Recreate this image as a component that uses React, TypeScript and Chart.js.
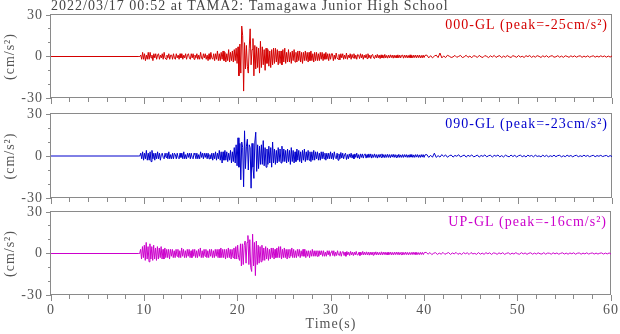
import React, { useEffect, useRef } from 'react';
import { Chart, registerables } from 'chart.js';

Chart.register(...registerables);

// ---------- text ----------
const TITLE = '2022/03/17 00:52 at TAMA2: Tamagawa Junior High School';
const X_TITLE = 'Time(s)';
const Y_TITLE = '(cm/s\u00B2)';
const COMPONENTS = ['000-GL', '090-GL', 'UP-GL'];
const PEAKS = [-25, -23, -16];
const COLORS = ['#d40000', '#0000cc', '#cc00cc'];

// ---------- axes ----------
const X_MIN = 0;
const X_MAX = 60;
const X_MAJOR_STEP = 10;
const X_MINOR_STEP = 2;
const Y_MIN = -30;
const Y_MAX = 30;
const Y_MAJOR_STEP = 30;
const Y_MINOR_STEP = 10;

// ---------- sampling of the digitised records ----------
const QUIET_TIMES = [0, 9.4];
const ACTIVE_START = 9.5; // s  (9.5 .. 30.0)
const ACTIVE_DT = 0.1;
const CODA_START = 30.1; // s  (30.1 .. 40.0)
const CODA_DT = 0.1;
const TAIL_START = 40.2; // s  (40.2 .. 60.0)
const TAIL_DT = 0.2;

// ---------- accelerations (cm/s^2) read from the records ----------
const RED_ACTIVE = [
  0, 1, -2, 3, -2, 2, -3, 1, -2, 3,
  -2, 3, -1, 1, -3, 2, -1, 2, -2, 1,
  2, -2, 1, -1, 2, -2, 3, -1, -2, 1,
  -1, 2, -2, 1, 1, -2, 2, -1, -2, 2,
  -1, 1, -2, 2, -1, 2, -2, 1, -1, 2,
  -2, 1, 2, -1, -2, 2, -1, 2, -2, 1,
  -1, 2, -2, 1, -2, 3, -1, -2, 2, -1,
  2, -2, 1, -3, 2, -2, 3, -1, -2, 2,
  -3, 2, -2, 4, -3, 2, -3, 3, -2, 4,
  -3, 3, -4, 2, -3, 5, -4, 3, -3, 4,
  -4, 5, -3, 6, -5, 7, -14, 9, -12, 22,
  15, -25, 10, -9, 8, -7, -12, 6, 20, -6,
  5, 13, -14, 8, -9, 7, -8, 6, -12, 11,
  -8, 7, -6, 5, -10, 6, -5, 5, -7, 4,
  -8, 5, -6, 6, -5, 6, -4, 5, -6, 4,
  -5, 4, -6, 5, -4, 6, -5, 3, -4, 5,
  -4, 3, -5, 4, -3, 5, -4, 3, -4, 4,
  -3, 4, -4, 3, -5, 3, -3, 4, -3, 3,
  -4, 3, -3, 4, -3, 2, -4, 3, -3, 3,
  -3, 2, -3, 3, -2, 3, -3, 2, -2, 3,
  -2, 2, -3, 2, -2, 2,
];
const RED_CODA = [
  2, -3, 1, -2, 2.5, -1, -2, 1.5, -2.5, 2,
  -1, 2, -2, 1, -1.5, 2.5, -2, 1, -1, 2,
  -2, 1.5, -1, 2, -1.5, 1, -2, 1.5, 1, -1.5,
  2, -1, 1.5, -2, 1, -1, 1.5, -1.5, 2, -1,
  1, -1.5, 1, 1.5, -1, -1.5, 1, -1, 1.5, -1,
  1, -1.5, 1.2, -1, 1, -1.2, 1.5, -1, 0.8, -1.2,
  1, -1, 1.2, -0.8, 1, -1.2, 1, -1, 0.8, -1,
  1.2, -1, 1, -1, 0.8, 1, -1.2, 1, -0.8, 1,
  -1, 0.8, -1, 1.2, -1, 0.8, -1, 1, -0.8, 1,
  -1, 1, -0.8, 1, -1, 0.8, -1, 1, -0.8, 0.8,
];
const RED_TAIL = [
  1, -1, 0.6, -1, 0.3, 1, -0.8, 2.5, -1, 0.4,
  -0.8, 0.9, 0.2, -0.7, -0.3, 0.8, -0.6, 0.1, 0.8, -0.8,
  -0.2, 0.9, -0.6, 0.3, -0.9, 0.6, 0.2, -0.7, 0.8, -0.3,
  -0.7, 0.7, 0.1, -0.8, 0.5, -0.4, 0.8, -0.7, 0.2, 0.6,
  -0.8, 0.3, -0.5, 0.7, -0.2, -0.7, 0.6, 0.1, -0.6, 0.7,
  -0.4, 0.2, -0.7, 0.6, -0.1, 0.7, -0.6, 0.3, -0.5, 0.6,
  0.1, -0.7, 0.5, -0.3, 0.6, -0.6, 0.2, 0.6, -0.5, -0.2,
  0.6, -0.5, 0.3, -0.6, 0.5, 0.1, -0.6, 0.5, -0.3, 0.5,
  -0.5, 0.2, 0.5, -0.6, 0.3, -0.4, 0.5, -0.5, 0.1, 0.5,
  -0.5, 0.3, -0.4, 0.5, -0.2, 0.4, -0.5, 0.3, -0.4, 0.4,
];

const BLUE_ACTIVE = [
  0, 2, -2, 3, -3, 2, -2, 4, -3, 2,
  -3, 3, -4, 4, -2, 2, -3, 2, -2, 3,
  -2, 2, -3, 1, 2, -1, -2, 2, -1, 2,
  -2, 3, -2, 1, -2, 2, -2, 2, 1, -2,
  2, -1, -2, 2, -1, 2, -2, 3, -2, 1,
  -2, 2, -1, 2, -2, 2, -1, -2, 2, 1,
  -2, 2, -2, 1, -2, 3, -1, 2, -2, 2,
  -1, 2, -2, 2, -2, 1, -2, 2, -3, 2,
  -2, 3, -3, 2, -2, 4, -3, 3, -5, 3,
  -3, 4, -3, 3, -4, 2, -3, 4, -5, 3,
  -4, 6, -5, 8, -7, 13, -8, 9, -17, 10,
  6, -22, 18, -9, 7, 12, -10, 8, 6, -23,
  9, -8, -16, 10, 17, -11, 8, -9, 7, -6,
  8, -6, 11, -7, 6, -8, 5, -6, 7, -5,
  6, -8, 10, -5, 5, -6, 4, -5, 6, -4,
  5, -5, 7, -4, 5, -4, 4, -5, 5, -4,
  4, -6, 6, -4, 4, -5, 3, -4, 5, -3,
  4, -4, 3, -5, 4, -3, 5, -4, 3, -3,
  4, -3, 3, -4, 3, -3, 4, -3, 3, -2,
  3, -3, 2, -3, 3, -2, 3, -2, 2, -3,
  2, -2, 2, -2, 3, -2,
];
const BLUE_CODA = [
  2, -2.5, 3, -1, -2, 2, -3, 1.5, -2, 2.5,
  -1.5, 2, -2, 1, 2, -2.5, 1, -2, 1.5, -1,
  2, -1.5, 1, -2, 1.5, -1, 2, -1.5, 1, -2,
  1.5, -1, 1.5, -1.5, 1, 1.5, -1.5, 1, -1, 1.5,
  -1, 1.5, -1.5, 1, -1, 1.5, -1, 1, -1.5, 1,
  -1, 1.2, -1, 1.5, -1, 1, -1.2, 1, -1, 1.2,
  -1, 1, -1.2, 1, -0.8, 1.2, -1, 1, -1, 0.8,
  -1, 1.2, -1, 0.8, -1, 1, -1, 1, -0.8, 1,
  -1, 0.8, -1, 1, -0.8, 1, -1, 0.8, -1, 1,
  -0.8, 1, -1, 0.8, -1, 1, -0.8, 1, -1, 0.8,
];
const BLUE_TAIL = [
  1, -1, 0.5, -0.9, 2, -1, 0.3, -0.8, 1, -0.4,
  0.8, -0.9, 0.2, 0.7, -0.8, 0.4, -0.2, 0.9, -0.7, 0.1,
  0.7, -0.8, 0.5, -0.3, 0.8, -0.6, -0.1, 0.7, -0.8, 0.4,
  -0.3, 0.8, -0.6, 0.2, 0.6, -0.8, 0.5, -0.2, 0.7, -0.6,
  0.3, -0.7, 0.6, -0.1, -0.6, 0.7, -0.4, 0.5, -0.7, 0.2,
  0.6, -0.5, 0.3, -0.7, 0.6, -0.2, 0.4, -0.6, 0.6, -0.3,
  0.1, -0.6, 0.6, -0.4, 0.5, -0.6, 0.2, -0.4, 0.6, -0.5,
  0.3, 0.5, -0.6, 0.2, -0.5, 0.6, -0.3, 0.4, -0.6, 0.2,
  0.5, -0.5, 0.2, -0.4, 0.6, -0.3, 0.4, -0.5, 0.1, 0.5,
  -0.5, 0.3, -0.2, 0.5, -0.4, 0.1, 0.4, -0.5, 0.3, -0.4,
];

const MAG_ACTIVE = [
  0, 3, -4, 5, -3, 6, -5, 8, -4, 5,
  -6, 7, -4, 5, -5, 6, -4, 4, -5, 5,
  -4, 4, -3, 5, -4, 3, -4, 4, -3, 3,
  -3, 3, -4, 3, -2, 3, -3, 2, -3, 3,
  -2, 3, -3, 2, -3, 4, -2, 3, -3, 2,
  -3, 3, -2, 3, -3, 2, -3, 3, -2, 3,
  -3, 2, -3, 3, -2, 4, -3, 2, -3, 3,
  -2, 3, -3, 2, -3, 3, -2, 3, -3, 2,
  -3, 3, -2, 3, -3, 3, -3, 4, -3, 3,
  -3, 3, -4, 3, -3, 4, -3, 3, -4, 3,
  -3, 4, -4, 5, -4, 6, -3, -5, 7, -9,
  7, -8, 6, 9, -7, 8, 13, -8, 10, -10,
  -13, 14, -9, 8, -16, 9, -8, 6, -7, 5,
  -6, 6, -5, 4, -5, 5, -4, 4, -5, 3,
  -4, 4, -3, 4, -4, 3, -3, 4, -3, 5,
  -3, 5, -4, 3, -3, 4, -3, 3, -4, 3,
  -3, 3, -2, 4, -3, 3, -3, 2, -3, 3,
  -2, 3, -3, 2, -2, 3, -2, 3, -3, 2,
  -2, 2, -3, 2, -2, 3, -2, 2, -2, 2,
  -2, 2, -2, 2, -1, 2, -2, 2, -2, 1,
  -2, 2, -1, 2, -2, 1,
];
const MAG_CODA = [
  2, -1.5, 2, -2, 1, -1.5, 2, -1, -1.5, 1.5,
  -2, 1, 1.5, -1.5, 1, -2, 1.5, -1, 1, -1.5,
  1.5, -1, 1, -1.5, 1, -1, 1.5, -1, -1, 1,
  -1.5, 1, -1, 1.5, -1, 1, -1, 1.2, -1, 1,
  -1.2, 1, -1, 1, -1.2, 1, -0.8, 1.2, -1, 1,
  -1, 0.8, -1, 1.2, -1, 1, -0.8, 1, -1, 0.8,
  -1, 1, -0.8, 1, -1, 0.8, -1, 1, -0.8, 1,
  -0.8, 1, -1, 0.8, -0.8, 1, -1, 0.8, -0.8, 1,
  -0.8, 0.8, -1, 0.8, -0.8, 0.8, -0.8, 1, -0.8, 0.8,
  -0.8, 0.8, -0.8, 0.7, -0.8, 0.8, -0.7, 0.8, -0.8, 0.7,
];
const MAG_TAIL = [
  0.8, -0.5, 0.7, -0.8, 0.2, 0.6, -0.7, 0.3, -0.5, 0.8,
  -0.6, 0.1, 0.7, -0.7, 0.4, -0.3, 0.8, -0.6, 0.2, -0.7,
  0.6, -0.2, 0.5, -0.7, 0.7, -0.3, 0.1, -0.6, 0.7, -0.5,
  0.3, -0.6, 0.6, -0.2, 0.5, -0.7, 0.4, 0.2, -0.6, 0.5,
  -0.3, 0.6, -0.6, 0.1, 0.5, -0.6, 0.3, -0.4, 0.6, -0.2,
  -0.5, 0.6, -0.3, 0.4, -0.6, 0.2, 0.5, -0.5, 0.3, -0.4,
  0.5, -0.2, -0.4, 0.6, -0.5, 0.3, 0.2, -0.5, 0.5, -0.3,
  0.4, -0.5, 0.1, 0.5, -0.4, 0.3, -0.5, 0.4, -0.2, 0.5,
  -0.5, 0.2, 0.4, -0.5, 0.3, -0.3, 0.5, -0.4, 0.1, 0.4,
  -0.4, 0.3, -0.4, 0.2, 0.4, -0.4, 0.3, -0.3, 0.4, -0.4,
];

const SERIES_ACTIVE = [RED_ACTIVE, BLUE_ACTIVE, MAG_ACTIVE];
const SERIES_CODA = [RED_CODA, BLUE_CODA, MAG_CODA];
const SERIES_TAIL = [RED_TAIL, BLUE_TAIL, MAG_TAIL];

function toPoints(active: number[], coda: number[], tail: number[]) {
  const pts: { x: number; y: number }[] = QUIET_TIMES.map((t) => ({ x: t, y: 0 }));
  active.forEach((v, i) => pts.push({ x: +(ACTIVE_START + i * ACTIVE_DT).toFixed(3), y: v }));
  coda.forEach((v, i) => pts.push({ x: +(CODA_START + i * CODA_DT).toFixed(3), y: v }));
  tail.forEach((v, i) => pts.push({ x: +(TAIL_START + i * TAIL_DT).toFixed(3), y: v }));
  return pts;
}

// ---------- style / layout ----------
const FONT_FAMILY = '"Liberation Serif", "Times New Roman", Times, serif';
const TEXT_COLOR = '#555555';
const AXIS_COLOR = '#8a8a8a';
const W = 620;
const H = 334;
const PANEL_PAD = [
  { top: 0, bottom: 236 },
  { top: 114, bottom: 136 },
  { top: 212, bottom: 0 },
];

const spacingPlugin = {
  id: 'letterSpacing',
  beforeLayout(chart: any) {
    chart.ctx.letterSpacing = '1px';
  },
  beforeDraw(chart: any) {
    chart.ctx.letterSpacing = '1px';
  },
};

const framePlugin = {
  id: 'frame',
  beforeDatasetsDraw(chart: any) {
    const { ctx, chartArea } = chart;
    const l = Math.round(chartArea.left) - 0.5;
    const t = Math.round(chartArea.top) - 0.5;
    const r = Math.round(chartArea.right) - 0.5;
    const b = Math.round(chartArea.bottom) - 0.5;
    ctx.save();
    ctx.strokeStyle = AXIS_COLOR;
    ctx.lineWidth = 1;
    ctx.strokeRect(l, t, r - l, b - t);
    ctx.restore();
  },
};

const componentLabelPlugin = {
  id: 'componentLabel',
  afterDatasetsDraw(chart: any, _args: any, opts: any) {
    const { ctx, chartArea } = chart;
    ctx.save();
    ctx.letterSpacing = '1px';
    ctx.font = `14px ${FONT_FAMILY}`;
    ctx.fillStyle = opts.color;
    ctx.textAlign = 'right';
    ctx.textBaseline = 'alphabetic';
    ctx.fillText(opts.text, chartArea.right - 4, chartArea.top + 14);
    ctx.restore();
  },
};

function makeConfig(k: number): any {
  const isBottom = k === 2;
  const isTop = k === 0;
  return {
    type: 'line',
    data: {
      datasets: [
        {
          label: COMPONENTS[k],
          data: toPoints(SERIES_ACTIVE[k], SERIES_CODA[k], SERIES_TAIL[k]),
          borderColor: COLORS[k],
          borderWidth: 1,
          borderJoinStyle: 'bevel',
          pointRadius: 0,
          tension: 0,
          fill: false,
          xAxisID: 'x',
          yAxisID: 'y',
        },
      ],
    },
    options: {
      responsive: false,
      animation: false,
      devicePixelRatio: 1,
      parsing: false,
      normalized: true,
      events: [],
      font: { family: FONT_FAMILY, size: 14 },
      layout: { padding: { top: PANEL_PAD[k].top, bottom: PANEL_PAD[k].bottom, left: 0, right: 8 } },
      plugins: {
        legend: { display: false },
        tooltip: { enabled: false },
        title: {
          display: isTop,
          text: TITLE,
          align: 'start',
          fullSize: false,
          color: '#444444',
          font: { family: FONT_FAMILY, size: 14, lineHeight: 1, weight: 'normal' },
          padding: { top: -1, bottom: 2 },
        },
        componentLabel: {
          text: `${COMPONENTS[k]} (peak=${PEAKS[k]}cm/s\u00B2)`,
          color: COLORS[k],
        },
      },
      scales: {
        xMinor: {
          type: 'linear',
          position: 'bottom',
          weight: 0,
          min: X_MIN,
          max: X_MAX,
          ticks: { display: false, stepSize: X_MINOR_STEP },
          grid: { drawOnChartArea: false, drawTicks: true, tickLength: 4, color: AXIS_COLOR },
          border: { display: false },
          afterFit: (s: any) => {
            s.height = 0;
          },
        },
        x: {
          type: 'linear',
          position: 'bottom',
          weight: 1,
          min: X_MIN,
          max: X_MAX,
          ticks: {
            display: isBottom,
            stepSize: X_MAJOR_STEP,
            padding: 1,
            color: TEXT_COLOR,
            font: { family: FONT_FAMILY, size: 14 },
            maxRotation: 0,
            autoSkip: false,
          },
          grid: { drawOnChartArea: false, drawTicks: true, tickLength: 6, color: AXIS_COLOR },
          border: { display: false },
          title: {
            display: isBottom,
            text: X_TITLE,
            color: TEXT_COLOR,
            font: { family: FONT_FAMILY, size: 14 },
            padding: { top: 0, bottom: 1 },
          },
          afterFit: (s: any) => {
            s.height = isBottom ? 39 : 0;
          },
        },
        yMinor: {
          type: 'linear',
          position: 'left',
          weight: 0,
          min: Y_MIN,
          max: Y_MAX,
          ticks: { display: false, stepSize: Y_MINOR_STEP },
          grid: { drawOnChartArea: false, drawTicks: true, tickLength: 3, color: AXIS_COLOR },
          border: { display: false },
          afterFit: (s: any) => {
            s.width = 0;
          },
        },
        y: {
          type: 'linear',
          position: 'left',
          weight: 1,
          min: Y_MIN,
          max: Y_MAX,
          ticks: {
            stepSize: Y_MAJOR_STEP,
            padding: 3,
            color: TEXT_COLOR,
            font: { family: FONT_FAMILY, size: 14 },
            callback: (v: number) => String(v),
          },
          grid: { drawOnChartArea: false, drawTicks: true, tickLength: 5, color: AXIS_COLOR },
          border: { display: false },
          title: {
            display: true,
            text: Y_TITLE,
            color: TEXT_COLOR,
            font: { family: FONT_FAMILY, size: 14 },
            padding: { top: 2, bottom: 0 },
          },
          afterFit: (s: any) => {
            s.width = 51;
          },
        },
      },
    },
    plugins: [spacingPlugin, framePlugin, componentLabelPlugin],
  };
}

function Panel({ k }: { k: number }) {
  const ref = useRef<HTMLCanvasElement | null>(null);
  useEffect(() => {
    if (!ref.current) return;
    const chart = new Chart(ref.current, makeConfig(k));
    return () => chart.destroy();
  }, [k]);
  return (
    <canvas
      ref={ref}
      width={W}
      height={H}
      style={{ position: 'absolute', left: 0, top: 0, width: W, height: H }}
    />
  );
}

export default function App() {
  return (
    <div style={{ position: 'absolute', left: 0, top: 0, width: W, height: H, background: '#ffffff' }}>
      {[0, 1, 2].map((k) => (
        <Panel key={k} k={k} />
      ))}
    </div>
  );
}
